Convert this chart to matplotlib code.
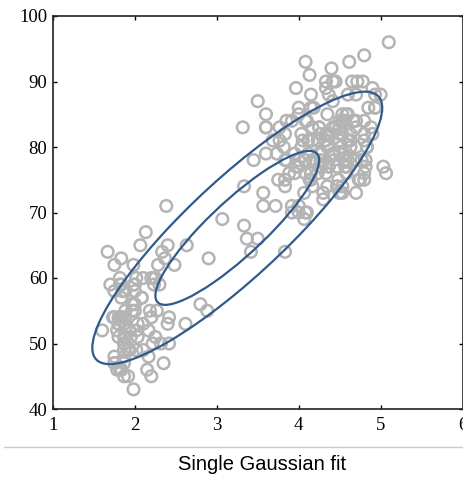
import numpy as np
import matplotlib
matplotlib.use('Agg')
import matplotlib.pyplot as plt
from matplotlib.patches import Ellipse

# Old Faithful: eruption duration (min) vs waiting time (min)
eruptions = [3.600, 1.800, 3.333, 2.283, 4.533, 2.883, 4.700, 3.600, 1.950, 4.350,
             1.833, 3.917, 4.200, 1.750, 4.700, 2.167, 1.750, 4.800, 1.600, 4.250,
             1.800, 1.750, 3.450, 3.067, 4.533, 3.600, 1.967, 4.083, 3.850, 4.433,
             4.300, 4.467, 3.367, 4.033, 3.833, 2.017, 1.867, 4.833, 1.833, 4.783,
             4.350, 1.883, 4.567, 1.750, 4.533, 3.317, 3.833, 2.100, 4.633, 2.000,
             4.800, 4.716, 1.833, 4.833, 1.733, 4.883, 3.717, 1.667, 4.567, 4.317,
             2.233, 4.500, 1.750, 4.800, 1.817, 4.400, 4.167, 4.700, 2.067, 4.700,
             4.033, 1.967, 4.500, 4.000, 1.983, 5.067, 2.017, 4.567, 3.883, 3.600,
             4.133, 4.333, 4.100, 2.633, 4.067, 4.933, 3.950, 4.517, 2.167, 4.000,
             2.200, 4.333, 1.867, 4.817, 1.833, 4.300, 4.667, 3.750, 1.867, 4.900,
             2.483, 4.367, 2.100, 4.500, 4.050, 1.867, 4.700, 1.783, 4.850, 3.683,
             4.733, 2.300, 4.900, 4.417, 1.700, 4.633, 2.317, 4.600, 1.817, 4.417,
             2.617, 4.067, 4.250, 1.967, 4.600, 3.767, 1.917, 4.500, 2.267, 4.650,
             1.867, 4.167, 2.800, 4.333, 1.833, 4.383, 1.883, 4.933, 2.033, 3.733,
             4.233, 2.233, 4.533, 4.817, 4.333, 1.983, 4.633, 2.017, 5.100, 1.800,
             5.033, 4.000, 2.400, 4.600, 3.567, 4.000, 4.500, 4.083, 1.800, 3.967,
             2.200, 4.150, 2.000, 3.833, 3.500, 4.583, 2.367, 5.000, 1.933, 4.617,
             1.917, 2.083, 4.583, 3.333, 4.167, 4.333, 4.500, 2.417, 4.000, 4.167,
             1.883, 4.583, 4.250, 3.767, 2.033, 4.433, 4.083, 1.833, 4.417, 2.183,
             4.800, 1.833, 4.800, 4.100, 3.966, 4.233, 3.500, 4.366, 2.250, 4.667,
             2.100, 4.350, 4.133, 1.867, 4.600, 1.783, 4.367, 3.850, 1.933, 4.500,
             2.383, 4.700, 1.867, 3.833, 3.417, 4.233, 2.400, 4.800, 2.000, 4.150,
             1.867, 4.267, 1.750, 4.483, 4.000, 4.117, 4.083, 4.267, 3.917, 4.550,
             4.083, 2.417, 4.183, 2.217, 4.450, 1.883, 1.850, 4.283, 3.950, 2.333,
             4.150, 2.350, 4.933, 2.900, 4.583, 3.833, 2.083, 4.367, 2.133, 4.350,
             2.200, 4.450, 3.567, 4.500, 4.150, 3.817, 3.917, 4.450, 2.000, 4.283,
             4.767, 4.533, 1.850, 4.250, 1.983, 2.250, 4.750, 4.117, 2.150, 4.417,
             1.817, 4.467]
waiting = [79, 54, 74, 62, 85, 55, 88, 85, 51, 85, 54, 84, 78, 47, 83, 52, 62, 84, 52, 79,
           51, 47, 78, 69, 74, 83, 55, 76, 78, 79, 73, 77, 66, 80, 74, 52, 48, 80, 59, 90,
           80, 58, 84, 58, 73, 83, 64, 53, 82, 59, 75, 90, 54, 80, 54, 83, 71, 64, 77, 81,
           59, 84, 48, 82, 60, 92, 78, 78, 65, 73, 82, 56, 79, 71, 62, 76, 60, 78, 76, 83,
           75, 82, 70, 65, 73, 88, 76, 80, 48, 86, 60, 90, 50, 78, 63, 72, 84, 75, 51, 82,
           62, 88, 49, 83, 81, 47, 84, 52, 86, 81, 75, 59, 89, 79, 59, 81, 50, 85, 59, 87,
           53, 69, 77, 56, 88, 81, 45, 82, 55, 90, 45, 83, 56, 89, 46, 82, 51, 86, 53, 79,
           81, 60, 82, 77, 76, 59, 80, 49, 96, 53, 77, 77, 65, 81, 71, 70, 81, 93, 53, 89,
           45, 86, 58, 78, 66, 76, 63, 88, 52, 93, 49, 57, 77, 68, 81, 81, 73, 50, 85, 74,
           55, 77, 83, 83, 51, 78, 84, 46, 83, 55, 81, 57, 76, 84, 77, 81, 87, 77, 51, 78,
           60, 82, 91, 53, 78, 46, 77, 84, 49, 83, 71, 80, 49, 75, 64, 76, 53, 94, 55, 76,
           50, 82, 54, 75, 78, 79, 78, 78, 70, 79, 70, 54, 86, 50, 90, 54, 54, 77, 79, 64,
           75, 47, 86, 63, 85, 82, 57, 82, 67, 74, 54, 83, 73, 73, 88, 80, 71, 83, 56, 79,
           78, 84, 58, 83, 43, 60, 75, 81, 46, 90, 46, 74]

# gaussian fit
mu = [3.25, 67.65]
sd = [1.0, 11.75]
rho = 0.88
levels = [1.0, 1.77]

cov = np.array([[sd[0]**2, rho*sd[0]*sd[1]],
                [rho*sd[0]*sd[1], sd[1]**2]])
vals, vecs = np.linalg.eigh(cov)
angle = np.degrees(np.arctan2(vecs[1, 1], vecs[0, 1]))

fig = plt.figure(figsize=(4.63, 4.79), dpi=100)
ax = fig.add_axes([53/463, 1-409/479, 409.5/463, 393/479])

ax.scatter(eruptions, waiting, s=70, facecolors='none', edgecolors='#b4b4b4',
           linewidths=1.8, zorder=2)
for r in levels:
    e = Ellipse(mu, 2*r*np.sqrt(vals[1]), 2*r*np.sqrt(vals[0]), angle=angle,
                fill=False, edgecolor='#2f5a8c', lw=1.6, zorder=3)
    ax.add_patch(e)

ax.set_xlim(1, 6)
ax.set_ylim(40, 100)
ax.set_xticks([1, 2, 3, 4, 5, 6])
ax.set_yticks([40, 50, 60, 70, 80, 90, 100])
ax.tick_params(direction='in', length=3, width=1, top=True, right=True, pad=4,
               labelsize=13.5)
ax.tick_params(axis='x', pad=6)
for lab in ax.get_xticklabels() + ax.get_yticklabels():
    lab.set_family('Liberation Serif')
for s in ax.spines.values():
    s.set_linewidth(1.2)
    s.set_color('#222222')

fig.add_artist(plt.Line2D([4/463, 1], [1-447/479, 1-447/479], color='#cccccc', lw=1))
fig.text(262/463, 1-465/479, 'Single Gaussian fit', ha='center', va='center',
         family='Liberation Sans', fontsize=14.5)

fig.savefig('out.png', dpi=100)
